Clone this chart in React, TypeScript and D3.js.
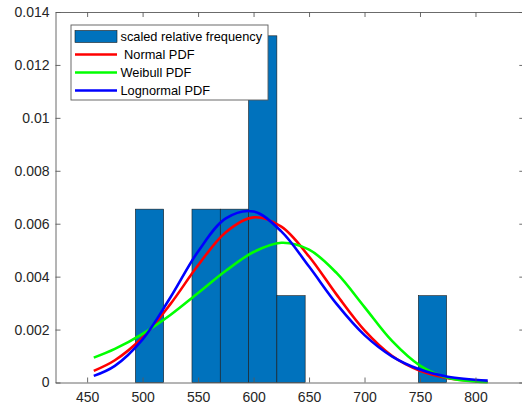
import React, { useEffect, useRef } from 'react';
import * as d3 from 'd3';

// histogram bins (edges) and counts
const binEdges = [493.5, 519, 544.5, 570, 595.5, 621, 646.5, 672, 697.5, 723, 748.5, 774];
const binHeights = [0.00655, 0, 0.00655, 0.00655, 0.0131, 0.00328, 0, 0, 0, 0, 0.00328];

// pdf curves
const curveX = [456, 475, 500, 525, 550, 575, 600, 625, 650, 675, 700, 725, 750, 775, 811];
const normalPdf = [0.00044, 0.00084, 0.0017, 0.00296, 0.00443, 0.00568, 0.00624, 0.00589, 0.00476, 0.00331, 0.00197, 0.001, 0.00044, 0.000165, 0.00003];
const weibullPdf = [0.00094, 0.00127, 0.00184, 0.00255, 0.00338, 0.00422, 0.00493, 0.00528, 0.00502, 0.00413, 0.00285, 0.00156, 0.00064, 0.00018, 0.00001];
const lognormalPdf = [0.00025, 0.00063, 0.00163, 0.00321, 0.00495, 0.0062, 0.00646, 0.00571, 0.00438, 0.00296, 0.00179, 0.00098, 0.00049, 0.00022, 0.00007];

const xTicks = [450, 500, 550, 600, 650, 700, 750, 800];
const yTicks = [0, 0.002, 0.004, 0.006, 0.008, 0.01, 0.012, 0.014];

const legendItems = [
  { label: 'scaled relative frequency', color: '#0072BD', type: 'bar' },
  { label: ' Normal PDF', color: '#FF0000', type: 'line' },
  { label: 'Weibull PDF', color: '#00FF00', type: 'line' },
  { label: 'Lognormal PDF', color: '#0000FF', type: 'line' },
];

const W = 522, H = 409;
// right edge of the axes box sits just outside the picture
const box = { left: 55.5, right: 524.3, top: 12, bottom: 382.5 };
const axisColor = '#5a5a5a';
const textColor = '#262626';

export default function App() {
  const ref = useRef<SVGSVGElement>(null);

  useEffect(() => {
    const svg = d3.select(ref.current);
    svg.selectAll('*').remove();

    const x = d3.scaleLinear().domain([421.5, 844]).range([box.left, box.right]);
    const y = d3.scaleLinear().domain([0, 0.014]).range([box.bottom, box.top]);

    // bars
    svg.append('g')
      .selectAll('rect')
      .data(binHeights.map((h, i) => ({ x0: binEdges[i], x1: binEdges[i + 1], h })).filter(d => d.h > 0))
      .enter()
      .append('rect')
      .attr('x', d => x(d.x0))
      .attr('y', d => y(d.h))
      .attr('width', d => x(d.x1) - x(d.x0))
      .attr('height', d => y(0) - y(d.h))
      .attr('fill', '#0072BD')
      .attr('stroke', '#1a1a1a')
      .attr('stroke-width', 0.6);

    // curves
    const line = d3.line<number>()
      .x((d, i) => x(curveX[i]))
      .y(d => y(d))
      .curve(d3.curveCatmullRom);

    [[normalPdf, '#FF0000'], [weibullPdf, '#00FF00'], [lognormalPdf, '#0000FF']].forEach(([vals, c]) => {
      svg.append('path')
        .attr('d', line(vals as number[]))
        .attr('fill', 'none')
        .attr('stroke', c as string)
        .attr('stroke-width', 2.6);
    });

    // axes, matlab style with ticks inside
    const fmtY = (d: any) => (d === 0 ? '0' : String(+d.toFixed(3)));
    const styleAxis = (g: any) => {
      g.select('.domain').attr('stroke', axisColor).attr('stroke-width', 0.9);
      g.selectAll('.tick line').attr('stroke', axisColor).attr('stroke-width', 0.9);
      g.selectAll('.tick text').attr('fill', textColor).attr('font-size', 14)
        .attr('font-family', '"Liberation Sans", Arial, sans-serif');
    };

    svg.append('g')
      .attr('transform', `translate(0,${box.bottom})`)
      .call(d3.axisBottom(x).tickValues(xTicks).tickSizeInner(-5).tickSizeOuter(0).tickPadding(10) as any)
      .call(styleAxis);
    svg.append('g')
      .attr('transform', `translate(0,${box.top})`)
      .call(d3.axisTop(x).tickValues(xTicks).tickSizeInner(-5).tickSizeOuter(0).tickFormat(() => '') as any)
      .call(styleAxis);
    svg.append('g')
      .attr('transform', `translate(${box.left},0)`)
      .call(d3.axisLeft(y).tickValues(yTicks).tickSizeInner(-5).tickSizeOuter(0).tickPadding(6).tickFormat(fmtY) as any)
      .call(styleAxis);
    svg.append('g')
      .attr('transform', `translate(${box.right},0)`)
      .call(d3.axisRight(y).tickValues(yTicks).tickSizeInner(-5).tickSizeOuter(0).tickFormat(() => '') as any)
      .call(styleAxis);

    // legend
    const lg = svg.append('g').attr('transform', 'translate(71,25)');
    lg.append('rect')
      .attr('width', 197).attr('height', 75)
      .attr('fill', 'white').attr('stroke', axisColor).attr('stroke-width', 0.9);
    legendItems.forEach((it, i) => {
      const cy = 11.5 + i * 18;
      if (it.type === 'bar') {
        lg.append('rect').attr('x', 4).attr('y', cy - 6).attr('width', 42).attr('height', 12)
          .attr('fill', it.color).attr('stroke', '#1a1a1a').attr('stroke-width', 0.6);
      } else {
        lg.append('line').attr('x1', 4).attr('x2', 46).attr('y1', cy).attr('y2', cy)
          .attr('stroke', it.color).attr('stroke-width', 2.6);
      }
      lg.append('text')
        .attr('x', 49.5).attr('y', cy).attr('dy', '0.35em')
        .attr('font-size', 12.8)
        .attr('font-family', '"Liberation Sans", Arial, sans-serif')
        .attr('fill', '#000')
        .attr('xml:space', 'preserve')
        .style('white-space', 'pre')
        .text(it.label);
    });
  }, []);

  return (
    <div style={{ position: 'fixed', left: 0, top: 0, width: W, height: H, background: 'white' }}>
      <svg ref={ref} width={W} height={H} style={{ display: 'block' }} />
    </div>
  );
}
